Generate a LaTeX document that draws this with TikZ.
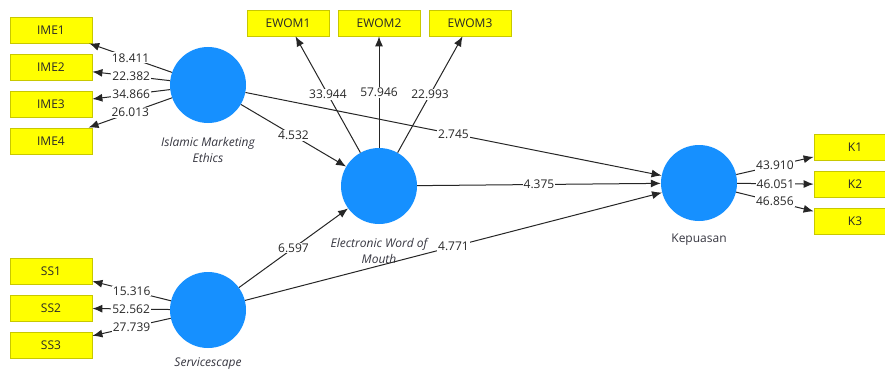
\documentclass[tikz,border=0pt]{standalone}
\usepackage{fontspec}
\setmainfont{Open Sans}
\usetikzlibrary{arrows.meta}
\definecolor{lvblue}{RGB}{22,144,255}
\definecolor{indyel}{RGB}{255,255,0}
\definecolor{indbord}{RGB}{200,200,0}
\definecolor{txtgray}{RGB}{40,40,40}
\definecolor{lblgray}{RGB}{55,55,65}
\tikzset{
  lv/.style={circle, fill=lvblue, draw=none, minimum size=76pt, inner sep=0pt},
  ind/.style={rectangle, fill=indyel, draw=indbord, line width=0.8pt, minimum width=82pt, minimum height=26pt, inner sep=0pt, font=\fontsize{12}{14}\selectfont, text=txtgray},
  arr/.style={draw=black!85, line width=1pt, -{Latex[length=10pt,width=8pt]}},
  lbl/.style={fill=white, inner sep=1pt, font=\fontsize{12}{14}\selectfont, text=txtgray, pos=0.5},
  lvname/.style={font=\fontsize{12}{15.5}\selectfont\itshape, text=lblgray, align=center},
  lvname2/.style={font=\fontsize{12}{15.5}\selectfont, text=lblgray, align=center}
}
\begin{document}
\begin{tikzpicture}[x=1pt,y=-1pt]
\useasboundingbox (0,0) rectangle (885,369);
\clip (0,0) rectangle (885,369);
\fill[white] (0,0) rectangle (885,369);
% latent variables
\node[lv] (ime) at (208,85) {};
\node[lv] (ewom) at (379,186) {};
\node[lv] (kep) at (699,183) {};
\node[lv] (ss) at (208,310) {};
% latent names
\node[lvname] (imeN) at (208,150) {Islamic Marketing\\Ethics};
\node[lvname] (ewomN) at (379,251) {Electronic Word of\\Mouth};
\node[lvname2] (kepN) at (699,240) {Kepuasan};
\node[lvname] (ssN) at (208,364) {Servicescape};
% indicators
\node[ind] (ime1) at (51,30) {IME1};
\node[ind] (ime2) at (51,67) {IME2};
\node[ind] (ime3) at (51,104) {IME3};
\node[ind] (ime4) at (51,141) {IME4};
\node[ind] (ew1) at (288,23) {EWOM1};
\node[ind] (ew2) at (379,23) {EWOM2};
\node[ind] (ew3) at (470,23) {EWOM3};
\node[ind] (k1) at (855,147.5) {K1};
\node[ind] (k2) at (855,184.5) {K2};
\node[ind] (k3) at (855,221.5) {K3};
\node[ind] (ss1) at (51,271) {SS1};
\node[ind] (ss2) at (51,308) {SS2};
\node[ind] (ss3) at (51,345) {SS3};
% structural paths
\draw[arr] (ime) -- node[lbl] {2.745} (kep);
\draw[arr] (ime) -- node[lbl] {4.532} (ewom);
\draw[arr] (ewom) -- node[lbl] {4.375} (kep);
\draw[arr] (ss) -- node[lbl] {6.597} (ewom);
\draw[arr] (ss) -- node[lbl] {4.771} (kep);
% outer loadings
\draw[arr] (ime) -- node[lbl] {18.411} (ime1);
\draw[arr] (ime) -- node[lbl] {22.382} (ime2);
\draw[arr] (ime) -- node[lbl] {34.866} (ime3);
\draw[arr] (ime) -- node[lbl] {26.013} (ime4);
\draw[arr] (ewom) -- node[lbl] {33.944} (ew1);
\draw[arr] (ewom) -- node[lbl] {57.946} (ew2);
\draw[arr] (ewom) -- node[lbl] {22.993} (ew3);
\draw[arr] (kep) -- node[lbl] {43.910} (k1);
\draw[arr] (kep) -- node[lbl] {46.051} (k2);
\draw[arr] (kep) -- node[lbl] {46.856} (k3);
\draw[arr] (ss) -- node[lbl] {15.316} (ss1);
\draw[arr] (ss) -- node[lbl] {52.562} (ss2);
\draw[arr] (ss) -- node[lbl] {27.739} (ss3);
\end{tikzpicture}
\end{document}
